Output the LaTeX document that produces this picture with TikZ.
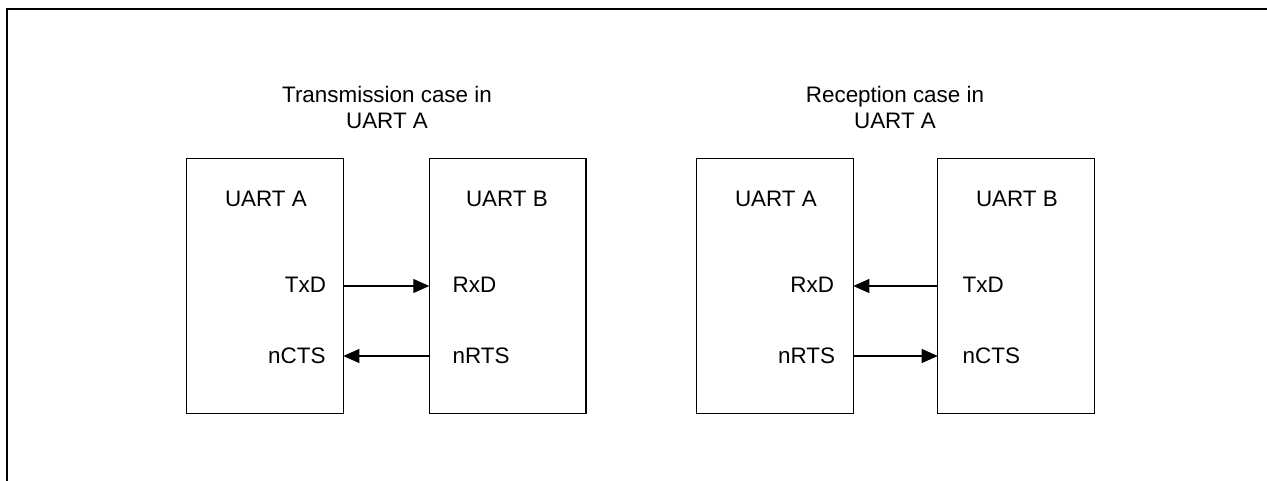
\documentclass[tikz,border=0pt]{standalone}
\usepackage{fontspec}
\setmainfont{Liberation Sans}
\usetikzlibrary{arrows.meta}
\begin{document}
\begin{tikzpicture}[x=1bp,y=-1bp,
  every node/.style={font=\fontsize{22.5}{25}\selectfont, inner sep=0pt, outer sep=0pt},
  uart/.style={draw, line width=1.3bp, minimum width=156.6bp, minimum height=255bp, anchor=north west},
  lbl/.style={text height=16bp, text depth=0pt},
  arr/.style={line width=1.1bp, -{Triangle[length=16bp,width=14bp]}},
  frame/.style={line width=2.2bp}]
\useasboundingbox (0,0) rectangle (1267,481);
% outer frame (top and left sides)
\coordinate (fr1) at (1268,9);
\coordinate (fr2) at (7,9);
\coordinate (fr3) at (7,482);
\draw[frame] (fr1) -- (fr2) -- (fr3);

% ---------- Transmission case ----------
\node[anchor=base] (t1a) at (387,102.7) {Transmission case in};
\node[anchor=base] (t1b) at (387,128.3) {UART A};
\node[uart] (A1) at (186.7,158.3) {};
\node[uart] (B1) at (429.3,158.3) {};
\node[anchor=base west] (A1n) at (225,206.7) {UART A};
\node[anchor=base west] (B1n) at (466,206.7) {UART B};
\node[anchor=base east] (A1tx) at (326,292.3) {TxD};
\node[anchor=base east] (A1cts) at (325.5,363.3) {nCTS};
\node[anchor=base west] (B1rx) at (452.7,292.3) {RxD};
\node[anchor=base west] (B1rts) at (452.7,363.3) {nRTS};
\coordinate (y1) at (0,286);
\coordinate (y2) at (0,356);
\draw[arr] (A1.east |- y1) -- (B1.west |- y1);
\draw[arr] (B1.west |- y2) -- (A1.east |- y2);

% ---------- Reception case ----------
\node[anchor=base] (t2a) at (895,102.7) {Reception case in};
\node[anchor=base] (t2b) at (895,128.3) {UART A};
\node[uart] (A2) at (696.7,158.3) {};
\node[uart] (B2) at (937.7,158.3) {};
\node[anchor=base west] (A2n) at (735,206.7) {UART A};
\node[anchor=base west] (B2n) at (976,206.7) {UART B};
\node[anchor=base east] (A2rx) at (834,292.3) {RxD};
\node[anchor=base east] (A2rts) at (835,363.3) {nRTS};
\node[anchor=base west] (B2tx) at (962.7,292.3) {TxD};
\node[anchor=base west] (B2cts) at (962.7,363.3) {nCTS};
\draw[arr] (B2.west |- y1) -- (A2.east |- y1);
\draw[arr] (A2.east |- y2) -- (B2.west |- y2);
\end{tikzpicture}
\end{document}
